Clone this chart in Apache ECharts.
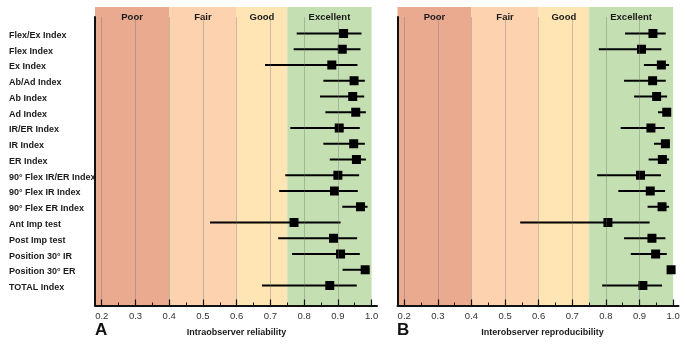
<!DOCTYPE html>
<html>
<head>
<meta charset="utf-8">
<script src="https://cdn.jsdelivr.net/npm/echarts@6/dist/echarts.min.js"></script>
<style>
  html, body { margin: 0; padding: 0; background: #fff; }
  #chart { width: 685px; height: 344px; }
</style>
</head>
<body>
<div id="chart"></div>
<script>
// rows, top to bottom
const categories = [
  'Flex/Ex Index', 'Flex Index', 'Ex Index', 'Ab/Ad Index', 'Ab Index', 'Ad Index',
  'IR/ER Index', 'IR Index', 'ER Index', '90° Flex IR/ER Index', '90° Flex IR Index',
  '90° Flex ER Index', 'Ant Imp test', 'Post Imp test', 'Position 30° IR',
  'Position 30° ER', 'TOTAL Index'
];

// A - intraobserver reliability (lower CI, estimate, upper CI)
const aLow = [0.778, 0.769, 0.684, 0.857, 0.847, 0.863, 0.759, 0.857, 0.876, 0.744, 0.726, 0.913, 0.521, 0.723, 0.764, 0.914, 0.675];
const aMid = [0.917, 0.913, 0.882, 0.948, 0.944, 0.953, 0.904, 0.947, 0.955, 0.900, 0.890, 0.967, 0.770, 0.887, 0.908, 0.981, 0.876];
const aHigh = [0.970, 0.967, 0.958, 0.980, 0.978, 0.983, 0.965, 0.980, 0.983, 0.963, 0.959, 0.988, 0.908, 0.957, 0.965, 0.993, 0.956];

// B - interobserver reproducibility
const bLow = [0.857, 0.779, 0.913, 0.854, 0.884, 0.955, 0.844, 0.943, 0.927, 0.774, 0.837, 0.924, 0.545, 0.854, 0.874, 0.985, 0.789];
const bMid = [0.940, 0.906, 0.965, 0.939, 0.951, 0.981, 0.934, 0.977, 0.968, 0.903, 0.932, 0.967, 0.806, 0.937, 0.948, 0.994, 0.910];
const bHigh = [0.978, 0.965, 0.988, 0.978, 0.982, 0.993, 0.975, 0.990, 0.988, 0.964, 0.976, 0.988, 0.930, 0.977, 0.981, 1.000, 0.967];

// qualitative bands
const bandNames = ['Poor', 'Fair', 'Good', 'Excellent'];
const bandEdges = [0.18, 0.4, 0.6, 0.75, 1.0];
const bandColors = ['#e9aa90', '#fdd2ae', '#fee5b3', '#c4dfb2'];

const majorTicks = [0.2, 0.3, 0.4, 0.5, 0.6, 0.7, 0.8, 0.9, 1.0];
const minorTicks = [0.25, 0.35, 0.45, 0.55, 0.65, 0.75, 0.85, 0.95];
const gridValues = [0.2, 0.3, 0.4, 0.5, 0.6, 0.7, 0.8, 0.9];

const X_MIN = 0.18;
const X_MAX = 1.016;

const myChart = echarts.init(document.getElementById('chart'));

const panels = [
  { left: 95, width: 282, low: aLow, mid: aMid, high: aHigh, labels: true },
  { left: 397.5, width: 281, low: bLow, mid: bMid, high: bHigh, labels: false }
];

const grid = [];
const xAxis = [];
const yAxis = [];
const series = [];

panels.forEach((p, k) => {
  const g = grid.length;
  // bands grid
  grid.push({ left: p.left, width: p.width, top: 7, bottom: 38.5 });
  // axes grid
  grid.push({ left: p.left, width: p.width, top: 17, bottom: 38.5 });
  // data grid
  grid.push({ left: p.left, width: p.width, top: 25.6, bottom: 50.6 });

  const xa = xAxis.length;
  xAxis.push({ gridIndex: g, type: 'value', min: X_MIN, max: X_MAX, show: false });
  xAxis.push({
    gridIndex: g + 1, type: 'value', min: X_MIN, max: X_MAX, z: 5,
    axisLine: { show: true, lineStyle: { color: '#111', width: 2 } },
    axisTick: { show: true, inside: true, length: 6, customValues: majorTicks, lineStyle: { color: '#111', width: 1.2 } },
    axisLabel: {
      customValues: majorTicks, margin: 6, color: '#333', fontSize: 9.5,
      fontFamily: 'Liberation Sans', formatter: v => v.toFixed(1)
    },
    splitLine: { show: false }
  });
  xAxis.push({
    gridIndex: g + 1, type: 'value', min: X_MIN, max: X_MAX, z: 5, position: 'bottom',
    axisLine: { show: false },
    axisTick: { show: true, inside: true, length: 3, customValues: minorTicks, lineStyle: { color: '#111', width: 1 } },
    axisLabel: { show: false },
    splitLine: { show: false }
  });
  xAxis.push({ gridIndex: g + 2, type: 'value', min: X_MIN, max: X_MAX, show: false });

  const ya = yAxis.length;
  yAxis.push({ gridIndex: g, type: 'value', min: 0, max: 1, show: false });
  yAxis.push({
    gridIndex: g + 1, type: 'value', min: 0, max: 1, z: 5,
    axisLine: { show: true, lineStyle: { color: '#111', width: 2 } },
    axisTick: { show: false }, axisLabel: { show: false }, splitLine: { show: false }
  });
  yAxis.push({
    gridIndex: g + 2, type: 'category', data: categories, inverse: true,
    axisLine: { show: false }, axisTick: { show: false }, splitLine: { show: false },
    axisLabel: {
      show: p.labels, align: 'left', margin: 86, verticalAlign: 'top', lineHeight: 4,
      color: '#1a1a1a', fontSize: 9, fontWeight: 'bold', fontFamily: 'Liberation Sans'
    }
  });

  // bands
  series.push({
    type: 'line', xAxisIndex: xa, yAxisIndex: ya, data: [], z: 1, silent: true,
    markArea: {
      silent: true,
      label: {
        show: true, position: 'insideTop', distance: 5, color: '#1a1a1a',
        fontSize: 9.5, fontWeight: 'bold', fontFamily: 'Liberation Sans'
      },
      data: bandNames.map((n, i) => [
        { name: n, xAxis: bandEdges[i], itemStyle: { color: bandColors[i], opacity: 1 } },
        { xAxis: bandEdges[i + 1] }
      ])
    }
  });

  // vertical gridlines
  series.push({
    type: 'line', xAxisIndex: xa + 1, yAxisIndex: ya + 1, data: [], z: 2, silent: true,
    markLine: {
      silent: true, symbol: 'none', label: { show: false },
      lineStyle: { color: 'rgba(110,110,110,0.35)', width: 1, type: 'solid' },
      data: gridValues.map(v => ({ xAxis: v }))
    }
  });

  // whiskers
  series.push({
    type: 'custom', xAxisIndex: xa + 3, yAxisIndex: ya + 2, z: 3,
    encode: { x: [1, 2, 3], y: 0 },
    data: categories.map((c, i) => [i, p.low[i], p.mid[i], p.high[i]]),
    renderItem: (params, api) => {
      const lo = api.coord([api.value(1), api.value(0)]);
      const md = api.coord([api.value(2), api.value(0)]);
      const hi = api.coord([api.value(3), api.value(0)]);
      return {
        type: 'group',
        children: [
          { type: 'line', shape: { x1: lo[0], y1: lo[1], x2: hi[0], y2: hi[1] }, style: { stroke: '#000', lineWidth: 2 } },
          { type: 'rect', shape: { x: md[0] - 4.5, y: md[1] - 4.5, width: 9, height: 9 }, style: { fill: '#000' } }
        ]
      };
    }
  });
});

const option = {
  animation: false,
  backgroundColor: '#fff',
  grid: grid,
  xAxis: xAxis,
  yAxis: yAxis,
  series: series,
  graphic: [
    { type: 'text', left: 95, top: 322, style: { text: 'A', fontSize: 17, fontWeight: 'bold', fill: '#111', fontFamily: 'Liberation Sans' } },
    { type: 'text', left: 397, top: 322, style: { text: 'B', fontSize: 17, fontWeight: 'bold', fill: '#111', fontFamily: 'Liberation Sans' } },
    { type: 'text', x: 236.5, y: 333, style: { text: 'Intraobserver reliability', align: 'center', verticalAlign: 'middle', fontSize: 9, fontWeight: 'bold', fill: '#1a1a1a', fontFamily: 'Liberation Sans' } },
    { type: 'text', x: 542.5, y: 333, style: { text: 'Interobserver reproducibility', align: 'center', verticalAlign: 'middle', fontSize: 9, fontWeight: 'bold', fill: '#1a1a1a', fontFamily: 'Liberation Sans' } }
  ]
};

myChart.setOption(option);
</script>
</body>
</html>
